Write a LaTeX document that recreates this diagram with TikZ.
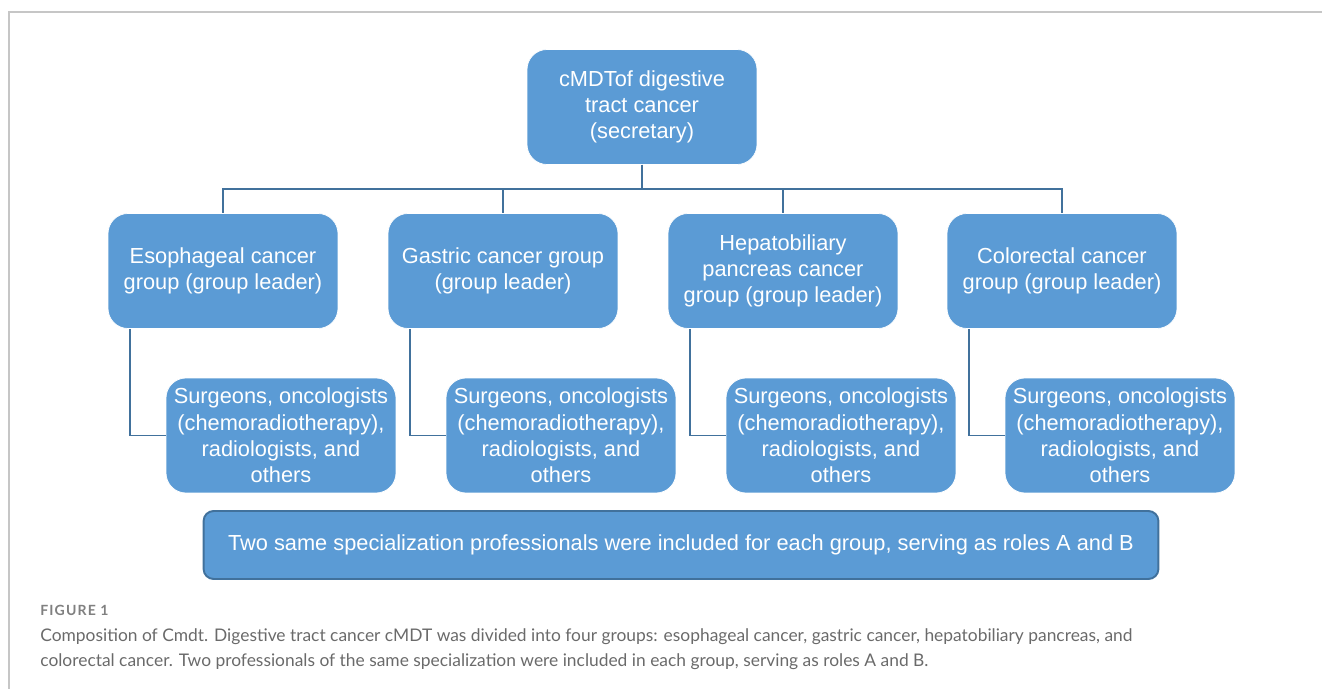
\documentclass[tikz,border=0pt]{standalone}
\usepackage{fontspec}
\setmainfont{Liberation Sans}
\newfontfamily\capfont{Lato}
\newfontfamily\figfont[LetterSpace=8]{Lato}
\definecolor{boxblue}{HTML}{5B9BD5}
\definecolor{lineblue}{HTML}{41719C}
\definecolor{framegray}{HTML}{C6C6C6}
\definecolor{captext}{HTML}{6A6A6A}

\begin{document}
\begin{tikzpicture}[x=0.02cm,y=-0.02cm,
	box/.style={fill=boxblue,draw=white,rounded corners=0.4cm,minimum width=4.6cm,minimum height=2.3cm,
		inner sep=0pt,text=white,align=center,font=\fontsize{12.4}{15}\selectfont},
	link/.style={draw=lineblue,line width=1.1pt},
	captxt/.style={anchor=base west,inner sep=0pt,text=captext,font=\capfont\fontsize{9.9}{12}\selectfont}]
\useasboundingbox (0,0) rectangle (1322,689);
\draw [framegray,line width=0.8pt] (1322,12) -- (9,12) -- (9,689);

\node [box] (top) at (642,107) {cMDTof digestive\\tract cancer\\(secretary)};
\foreach \n / \x / \t in {
								1/223/{Esophageal cancer\\group (group leader)},
								2/503/{Gastric cancer group\\(group leader)},
								3/783/{Hepatobiliary\\pancreas cancer\\group (group leader)},
								4/1062/{Colorectal cancer\\group (group leader)}%
										}
	{%
		\node [box] (g\n) at (\x,271) {\t};
		\node [box] (m\n) at (\x+58,435.5) {Surgeons, oncologists\\(chemoradiotherapy),\\radiologists, and\\others};
		\draw [link] (top.south) -- ++(0,24) -| (g\n.north);
		\draw [link] ([xshift=-1.86cm]g\n.south) |- (m\n.west);
	}

\node [box,draw=lineblue,line width=1.1pt,rounded corners=0.2cm,minimum width=19.1cm,minimum height=1.36cm] (note) at (681,545)
	{Two same specialization professionals were included for each group, serving as roles A and B};

\node [captxt,text=captext!85,font=\figfont\bfseries\fontsize{8}{10}\selectfont] (figlabel) at (40,615.7) {FIGURE 1};
\node [captxt] (cap1) at (40,641.7) {Composition of Cmdt. Digestive tract cancer cMDT was divided into four groups: esophageal cancer, gastric cancer, hepatobiliary pancreas, and};
\node [captxt] (cap2) at (40,666.5) {colorectal cancer. Two professionals of the same specialization were included in each group, serving as roles A and B.};

\end{tikzpicture}
\end{document}
